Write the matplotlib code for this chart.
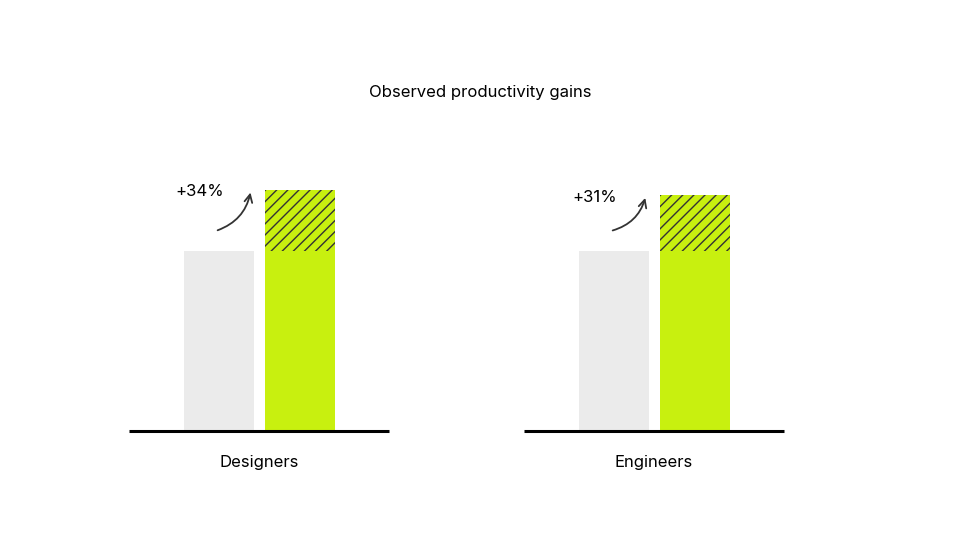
import matplotlib
matplotlib.use('Agg')
import matplotlib.pyplot as plt

# Data
groups = ['Designers', 'Engineers']
baseline = [100, 100]
with_ai = [134, 131]
gain_labels = ['+34%', '+31%']

GREY = '#ebebeb'
GREEN = '#c8f00f'
DARK = '#333333'

plt.rcParams['font.family'] = ['Inter', 'DejaVu Sans']
plt.rcParams['hatch.linewidth'] = 1.0
plt.rcParams['hatch.color'] = DARK

fig = plt.figure(figsize=(9.6, 5.4), dpi=100)
ax = fig.add_axes([0, 0, 1, 1])
# 1.8 px per unit, baseline at 431 px from top
ax.set_xlim(0, 960)
ax.set_ylim(-(540 - 431) / 1.8, 431 / 1.8)
ax.axis('off')

centers = [259, 654]
bw = 70
for i, c in enumerate(centers):
    xg = c - 40
    xa = c + 41
    ax.bar(xg, baseline[i], width=bw, color=GREY, linewidth=0)
    ax.bar(xa, baseline[i], width=bw, color=GREEN, linewidth=0)
    ax.bar(xa, with_ai[i] - baseline[i], bottom=baseline[i], width=bw,
           color=GREEN, hatch='///', edgecolor=DARK, linewidth=0)
    ax.plot([c - 130, c + 130], [0, 0], color='black', lw=2.2, solid_capstyle='butt')
    ax.text(c, -17.5, groups[i], ha='center', va='center', fontsize=12, color='black')
    # gain annotation
    top = with_ai[i]
    ax.text(c - 59, top - 1, gain_labels[i], ha='center', va='center', fontsize=12, color='black')
    ax.annotate('', xy=(c - 8, top), xytext=(c - 44, baseline[i] + 11),
                arrowprops=dict(arrowstyle='->', color=DARK, lw=1.3,
                                connectionstyle='arc3,rad=0.3', mutation_scale=14))

ax.text(480, (431 - 92) / 1.8, 'Observed productivity gains',
        ha='center', va='center', fontsize=12, color='black')

fig.savefig('out.png', dpi=100)
